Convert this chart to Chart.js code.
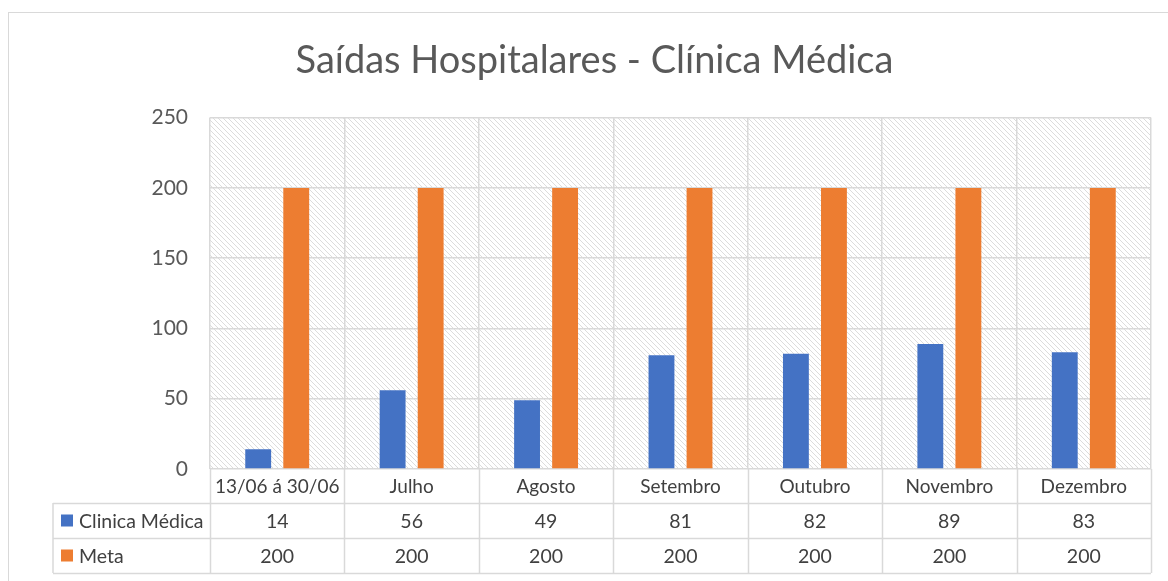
<!DOCTYPE html>
<html lang="pt">
<head>
  <meta charset="UTF-8" />
  <title>Saídas Hospitalares - Clínica Médica</title>
  <script src="https://cdn.jsdelivr.net/npm/chart.js"></script>
  <style>
    body { margin: 0; background: #fff; overflow: hidden; }
    #wrap { position: relative; width: 1168px; height: 581px; }
    #frame { position: absolute; left: 8px; top: 12px; width: 1200px; height: 620px; border: 1px solid #d9d9d9; }
    #chart { position: absolute; left: 0; top: 0; }
  </style>
</head>
<body>
  <div id="wrap">
    <div id="frame"></div>
    <canvas id="chart" width="1168" height="581"></canvas>
  </div>

  <script>
    // dados do gráfico
    const categories = ['13/06 á 30/06', 'Julho', 'Agosto', 'Setembro', 'Outubro', 'Novembro', 'Dezembro'];
    const clinicaMedica = [14, 56, 49, 81, 82, 89, 83];
    const meta = [200, 200, 200, 200, 200, 200, 200];
    const seriesNames = ['Clinica Médica', 'Meta'];
    const yTicks = [0, 50, 100, 150, 200, 250];

    const FONT = "Lato, 'Open Sans', sans-serif";
    const BLUE = '#4472C4';
    const ORANGE = '#ED7D31';
    const GRID = '#d9d9d9';
    const TEXT = '#595959';

    // fundo hachurado da área do gráfico
    function makeHatch() {
      const p = document.createElement('canvas');
      p.width = 5; p.height = 5;
      const c = p.getContext('2d');
      c.fillStyle = '#fff';
      c.fillRect(0, 0, 5, 5);
      c.strokeStyle = '#dcdcdc';
      c.lineWidth = 1;
      c.beginPath();
      c.moveTo(0, 0); c.lineTo(5, 5);
      c.moveTo(-1, 4); c.lineTo(1, 6);
      c.moveTo(4, -1); c.lineTo(6, 1);
      c.stroke();
      return c.createPattern(p, 'repeat');
    }

    const hatchBg = {
      id: 'hatchBg',
      beforeDraw(chart) {
        const { ctx, chartArea: a } = chart;
        ctx.save();
        ctx.fillStyle = makeHatch();
        ctx.fillRect(a.left, a.top, a.right - a.left, a.bottom - a.top);
        ctx.restore();
      }
    };

    // tabela de dados abaixo do eixo x
    const dataTable = {
      id: 'dataTable',
      afterDraw(chart) {
        const { ctx, chartArea: a, scales: { x } } = chart;
        const n = categories.length;
        const step = (a.right - a.left) / n;
        const rows = [a.bottom, a.bottom + 34, a.bottom + 69, a.bottom + 104];
        const tableLeft = 53;
        const series = [clinicaMedica, meta];
        const colors = [BLUE, ORANGE];

        ctx.save();
        ctx.strokeStyle = GRID;
        ctx.lineWidth = 1.5;
        ctx.beginPath();
        for (let i = 0; i <= n; i++) {
          const px = Math.round(a.left + i * step) + 0.5;
          ctx.moveTo(px, a.bottom);
          ctx.lineTo(px, rows[3]);
        }
        ctx.moveTo(tableLeft, rows[1]);
        ctx.lineTo(tableLeft, rows[3]);
        for (let r = 1; r <= 3; r++) {
          ctx.moveTo(tableLeft, rows[r] + 0.5);
          ctx.lineTo(a.right, rows[r] + 0.5);
        }
        ctx.stroke();

        ctx.fillStyle = '#404040';
        ctx.textAlign = 'center';
        ctx.textBaseline = 'middle';
        ctx.font = '19px ' + FONT;
        categories.forEach((c, i) => {
          ctx.fillText(c, x.getPixelForValue(i), (rows[0] + rows[1]) / 2 + 1);
        });
        ctx.font = '19.5px ' + FONT;
        series.forEach((s, r) => {
          const cy = (rows[r + 1] + rows[r + 2]) / 2 + 1;
          s.forEach((v, i) => ctx.fillText(String(v), x.getPixelForValue(i), cy));
        });

        ctx.textAlign = 'left';
        seriesNames.forEach((name, r) => {
          const cy = (rows[r + 1] + rows[r + 2]) / 2;
          ctx.fillStyle = colors[r];
          ctx.fillRect(61, cy - 6, 12, 12);
          ctx.fillStyle = '#404040';
          ctx.fillText(name, 79, cy + 1);
        });
        ctx.restore();
      }
    };

    new Chart(document.getElementById('chart'), {
      type: 'bar',
      data: {
        labels: categories,
        datasets: [
          { label: seriesNames[0], data: clinicaMedica, backgroundColor: BLUE },
          { label: seriesNames[1], data: meta, backgroundColor: ORANGE }
        ]
      },
      options: {
        responsive: false,
        animation: false,
        datasets: {
          bar: { categoryPercentage: 0.566, barPercentage: 0.68 }
        },
        layout: { padding: { left: 38, right: 17, top: 20, bottom: 0 } },
        plugins: {
          legend: { display: false },
          tooltip: { enabled: false },
          title: {
            display: true,
            text: 'Saídas Hospitalares - Clínica Médica',
            color: TEXT,
            font: { family: FONT, size: 38, weight: 'normal' },
            padding: { top: 18, bottom: 34 }
          }
        },
        scales: {
          x: {
            grid: { display: true, color: GRID, lineWidth: 1.5, offset: true, drawTicks: false },
            border: { display: false },
            ticks: { display: false },
            afterFit(scale) { scale.height = 112; }
          },
          y: {
            min: 0,
            max: 250,
            afterBuildTicks(scale) { scale.ticks = yTicks.map(v => ({ value: v })); },
            ticks: { color: TEXT, font: { family: FONT, size: 21 }, padding: 22 },
            grid: { color: GRID, lineWidth: 1.5, drawTicks: false },
            border: { display: false },
            afterFit(scale) { scale.width = 172; }
          }
        }
      },
      plugins: [hatchBg, dataTable]
    });
  </script>
</body>
</html>
